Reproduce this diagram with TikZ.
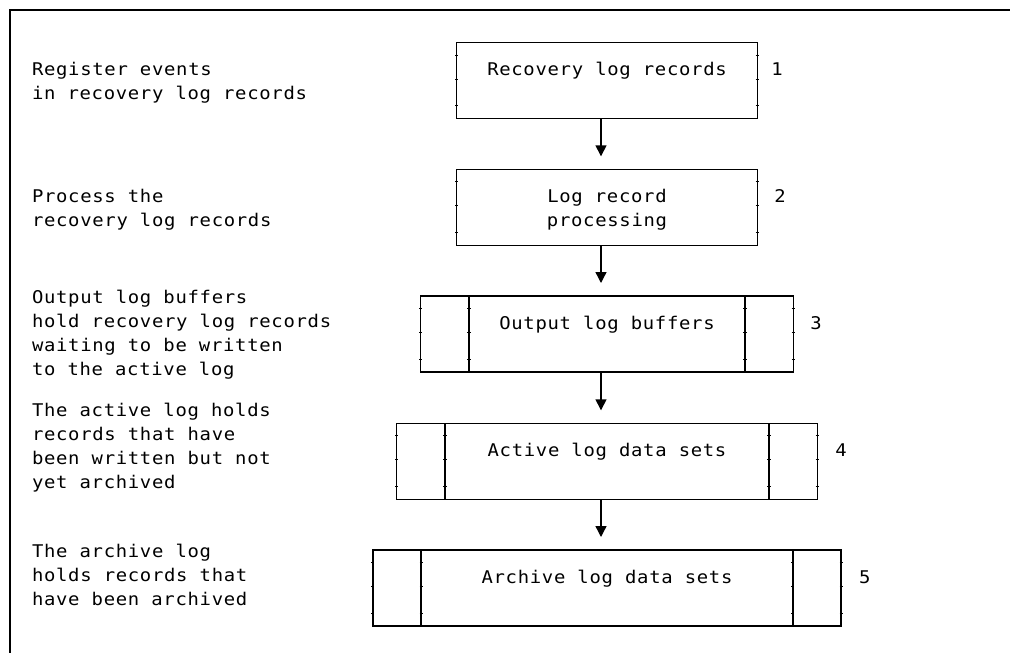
\documentclass[tikz,border=0pt]{standalone}
\usepackage{fontspec}
\newfontfamily\gothic[FakeStretch=1.08,LetterSpace=4]{DejaVu Sans Mono}
\usetikzlibrary{arrows.meta,calc}

\begin{document}
\begin{tikzpicture}[x=1pt,y=-1pt,
  every node/.style={inner sep=0pt,outer sep=0pt},
  txtfont/.style={font=\gothic\fontsize{17.5}{24}\selectfont},
  note/.style={txtfont, align=left, anchor=base west},
  boxtext/.style={txtfont, align=center, anchor=base},
  stage/.style={draw, line width=1.4pt, minimum height=76pt},
  flow/.style={-{Triangle[width=11pt,length=11pt]}, line width=1.4pt},
  rule/.style={line width=1.5pt},
  tick/.style={line width=0.7pt},
]
\useasboundingbox (0,0) rectangle (1010,653);

% frame: top and left rules only
\draw[rule] (10,653) -- (10,10) -- (1010,10);

% the five stages
\node[stage, minimum width=300.5pt] (b1) at (607,80.7) {};
\node[stage, minimum width=300.5pt] (b2) at (607,207.3) {};
\node[stage, minimum width=372.6pt] (b3) at (607,334) {};
\node[stage, minimum width=420.6pt] (b4) at (607,461.3) {};
\node[stage, minimum width=468.3pt] (b5) at (607,588) {};

% side compartments of the buffer and data set boxes
\foreach \b in {b3,b4,b5} {
  \draw[line width=1.4pt] ($(\b.north west)+(48.3,0)$) -- ($(\b.south west)+(48.3,0)$);
  \draw[line width=1.4pt] ($(\b.north east)+(-48.3,0)$) -- ($(\b.south east)+(-48.3,0)$);
}

% small grid ticks on the vertical edges
\foreach \b/\xs in {b1/{0,300.5}, b2/{0,300.5}, b3/{0,48.3,324.3,372.6}, b4/{0,48.3,372.3,420.6}, b5/{0,48.3,420,468.3}} {
  \foreach \x in \xs {
    \foreach \dy in {12.3,36.3,63} {
      \draw[tick] ($(\b.north west)+(\x-1.6,\dy)$) -- ++(3.2,0);
    }
  }
}

% box captions (a multi-line node sits on the baseline of its last line)
\node[boxtext] (t1) at ($(b1.north)+(0,33)$) {Recovery log records};
\node[boxtext] (t2) at ($(b2.north)+(0,57)$) {Log record\\processing};
\node[boxtext] (t3) at ($(b3.north)+(0,33)$) {Output log buffers};
\node[boxtext] (t4) at ($(b4.north)+(0,33)$) {Active log data sets};
\node[boxtext] (t5) at ($(b5.north)+(0,33)$) {Archive log data sets};

% step numbers
\node[note] (n1) at ($(b1.north east)+(14,33)$) {1};
\node[note] (n2) at ($(b2.north east)+(17,33)$) {2};
\node[note] (n3) at ($(b3.north east)+(17,33)$) {3};
\node[note] (n4) at ($(b4.north east)+(18,33)$) {4};
\node[note] (n5) at ($(b5.north east)+(18,33)$) {5};

% explanations on the left
\node[note] (d1) at (32,99) {Register events\\in recovery log records};
\node[note] (d2) at (32,226.5) {Process the\\recovery log records};
\node[note] (d3) at (32,375.4) {Output log buffers\\hold recovery log records\\waiting to be written\\to the active log};
\node[note] (d4) at (32,488.7) {The active log holds\\records that have\\been written but not\\yet archived};
\node[note] (d5) at (32,605.5) {The archive log\\holds records that\\have been archived};

% arrows between stages
\coordinate (a2) at ($(b2.north)+(-6,-13)$);
\coordinate (a3) at ($(b3.north)+(-6,-13)$);
\coordinate (a4) at ($(b4.north)+(-6,-13)$);
\coordinate (a5) at ($(b5.north)+(-6,-13)$);
\draw[flow] ($(b1.south)+(-6,0)$) -- (a2);
\draw[flow] ($(b2.south)+(-6,0)$) -- (a3);
\draw[flow] ($(b3.south)+(-6,0)$) -- (a4);
\draw[flow] ($(b4.south)+(-6,0)$) -- (a5);
\end{tikzpicture}
\end{document}
